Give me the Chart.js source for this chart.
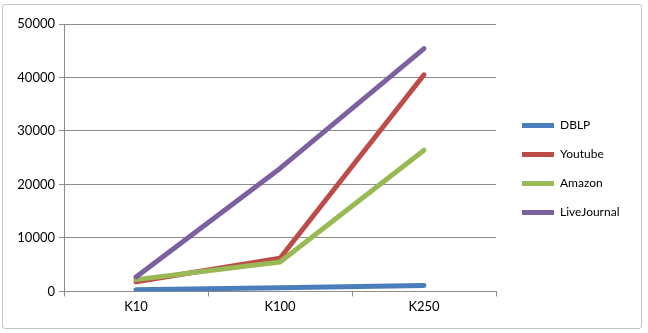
<!DOCTYPE html>
<html>
<head>
<meta charset="utf-8">
<script src="https://cdn.jsdelivr.net/npm/chart.js@4.4.1/dist/chart.umd.min.js"></script>
<style>
  html, body { margin: 0; padding: 0; background: #fff; }
  #wrap { position: relative; width: 648px; height: 333px; }
  #frame { position: absolute; left: 2px; top: 4px; width: 640px; height: 325px;
           border: 1px solid #c4c4c4; border-radius: 3px; box-sizing: border-box; pointer-events: none; }
  canvas { position: absolute; left: 0; top: 0; }
</style>
</head>
<body>
<div id="wrap">
  <canvas id="myChart" width="648" height="333"></canvas>
  <div id="frame"></div>
</div>
<script>
var categories = ['K10', 'K100', 'K250'];
var dblp = [300, 700, 1100];
var youtube = [1800, 6200, 40500];
var amazon = [2200, 5500, 26400];
var liveJournal = [2700, 23000, 45400];
var yTicks = [0, 10000, 20000, 30000, 40000, 50000];

var seriesNames = ['DBLP', 'Youtube', 'Amazon', 'LiveJournal'];
var seriesColors = ['#4a7ebb', '#be4b48', '#98b954', '#7d60a0'];
var seriesData = [dblp, youtube, amazon, liveJournal];

init();

function init() {
    var ctx = document.getElementById('myChart').getContext('2d');
    var datasets = seriesData.map(function (d, i) {
        return {
            label: seriesNames[i],
            data: d,
            borderColor: seriesColors[i],
            backgroundColor: seriesColors[i],
            borderWidth: 5,
            borderCapStyle: 'round',
            borderJoinStyle: 'round',
            pointRadius: 0,
            pointHoverRadius: 0,
            tension: 0,
            fill: false,
            // later series sit on top
            order: seriesData.length - i
        };
    });

    // legend box is wider than its content in the original, and sits a bit higher
    var legendTweak = {
        id: 'legendTweak',
        beforeLayout: function (c) {
            var lg = c.legend;
            if (lg && !lg._patched) {
                var fit = lg.fit;
                lg.fit = function () { fit.call(this); this.width = 152; };
                lg._patched = true;
            }
        },
        afterLayout: function (c) {
            var lg = c.legend;
            lg.left += 9; lg.right += 9;
            lg.top -= 2; lg.bottom -= 2;
        }
    };

    var chart = new Chart(ctx, {
        type: 'line',
        data: {
            labels: categories,
            datasets: datasets
        },
        plugins: [legendTweak],
        options: {
            responsive: false,
            animation: false,
            events: [],
            layout: { padding: { left: 8, top: 24, bottom: 15, right: 0 } },
            plugins: {
                tooltip: { enabled: false },
                legend: {
                    position: 'right',
                    align: 'center',
                    labels: {
                        color: '#000',
                        font: { family: 'Lato', size: 12 },
                        boxWidth: 32,
                        boxHeight: 5,
                        padding: 17,
                        useBorderRadius: true,
                        borderRadius: 2.5,
                        sort: function (a, b) { return a.datasetIndex - b.datasetIndex; },
                        generateLabels: function (c) {
                            return c.data.datasets.map(function (ds, i) {
                                return {
                                    text: ds.label,
                                    fillStyle: ds.borderColor,
                                    strokeStyle: ds.borderColor,
                                    lineWidth: 0,
                                    fontColor: '#000',
                                    hidden: false,
                                    datasetIndex: i
                                };
                            });
                        }
                    }
                }
            },
            scales: {
                x: {
                    offset: true,
                    border: { display: true, color: '#8c8c8c', width: 1 },
                    grid: { offset: true, drawOnChartArea: false, drawTicks: true, tickLength: 5, color: '#8c8c8c' },
                    ticks: { color: '#000', font: { family: 'Lato', size: 13 }, padding: 3, maxRotation: 0 }
                },
                y: {
                    min: 0,
                    max: 50000,
                    afterBuildTicks: function (scale) {
                        scale.ticks = yTicks.map(function (v) { return { value: v }; });
                    },
                    afterFit: function (scale) { scale.width = 56; },
                    border: { display: true, color: '#8c8c8c', width: 1 },
                    grid: { color: '#8c8c8c', tickLength: 5 },
                    ticks: {
                        color: '#000',
                        font: { family: 'Lato', size: 13 },
                        padding: 4,
                        callback: function (v) { return String(v); }
                    }
                }
            }
        }
    });
}
</script>
</body>
</html>
